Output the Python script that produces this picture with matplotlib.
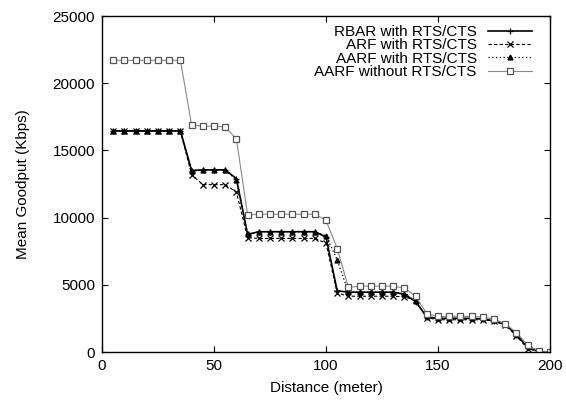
import numpy as np
import matplotlib
matplotlib.use("Agg")
import matplotlib.pyplot as plt

plt.rcParams['font.family'] = ['Liberation Sans', 'DejaVu Sans']

# distance (meter), every 5 m
distance = list(range(5, 205, 5))

rbar = [16450, 16450, 16450, 16450, 16450, 16450, 16450,
        13500, 13550, 13550, 13550, 12900,
        8750, 8950, 8950, 8950, 8950, 8950, 8950, 8550,
        4550, 4450, 4450, 4450, 4450, 4450, 4300, 3750, 2600,
        2500, 2500, 2500, 2500, 2450, 2300, 2050, 1300, 350, 30, 0]

arf = [16450, 16450, 16450, 16450, 16450, 16450, 16450,
       13200, 12450, 12450, 12450, 11900,
       8500, 8450, 8450, 8450, 8450, 8450, 8450, 8100,
       4400, 4150, 4150, 4150, 4150, 4150, 4100, 3850, 2550,
       2400, 2400, 2400, 2400, 2400, 2300, 2000, 1200, 250, 20, 0]

aarf_rts = [16450, 16450, 16450, 16450, 16450, 16450, 16450,
            13500, 13550, 13550, 13550, 12800,
            8800, 8950, 8950, 8950, 8950, 8950, 8950, 8650,
            6850, 4450, 4450, 4450, 4450, 4450, 4350, 3800, 2650,
            2500, 2500, 2500, 2500, 2500, 2350, 2050, 1350, 450, 50, 0]

aarf_no_rts = [21700, 21700, 21700, 21700, 21700, 21700, 21700,
               16900, 16800, 16800, 16750, 15850,
               10200, 10250, 10250, 10250, 10250, 10250, 10250, 9800,
               7700, 4800, 4900, 4900, 4900, 4900, 4750, 4150, 2850,
               2650, 2650, 2650, 2650, 2600, 2450, 2100, 1450, 500, 80, 0]

labels = ['RBAR with RTS/CTS', 'ARF with RTS/CTS',
          'AARF with RTS/CTS', 'AARF without RTS/CTS']

fig = plt.figure(figsize=(5.66, 4.0), dpi=100)
ax = fig.add_axes([102 / 566, 1 - 352 / 400, 448 / 566, 336 / 400])

ax.plot(distance, rbar, color='black', linestyle='-', linewidth=1.2,
        marker='+', markersize=5, markeredgewidth=0.9, label=labels[0])
ax.plot(distance, arf, color='black', linestyle=(0, (3, 2)), linewidth=0.8,
        marker='x', markersize=4.5, markeredgewidth=0.9, label=labels[1])
ax.plot(distance, aarf_rts, color='black', linestyle=(0, (1, 2)), linewidth=0.9,
        marker='^', markersize=3.5, label=labels[2])
ax.plot(distance, aarf_no_rts, color='#8a8a8a', linestyle='-', linewidth=0.8,
        marker='s', markersize=5, markerfacecolor='white',
        markeredgecolor='#555555', markeredgewidth=0.9, label=labels[3])

ax.set_xlim(0, 200)
ax.set_ylim(0, 25000)
ax.set_xticks(np.arange(0, 201, 50))
ax.set_yticks(np.arange(0, 25001, 5000))
ax.tick_params(direction='in', top=True, right=True, length=4, labelsize=11, pad=5)
for s in ax.spines.values():
    s.set_linewidth(1.0)

ax.set_xlabel('Distance (meter)', fontsize=11, labelpad=6)
ax.set_ylabel('Mean Goodput (Kbps)', fontsize=11, labelpad=16)

ax.legend(loc='upper right', frameon=False, markerfirst=False, fontsize=11,
          handlelength=2.9, handletextpad=0.7, labelspacing=-0.05,
          bbox_to_anchor=(0.98, 1.0), borderaxespad=0.2)

plt.savefig('out.png', dpi=100)
